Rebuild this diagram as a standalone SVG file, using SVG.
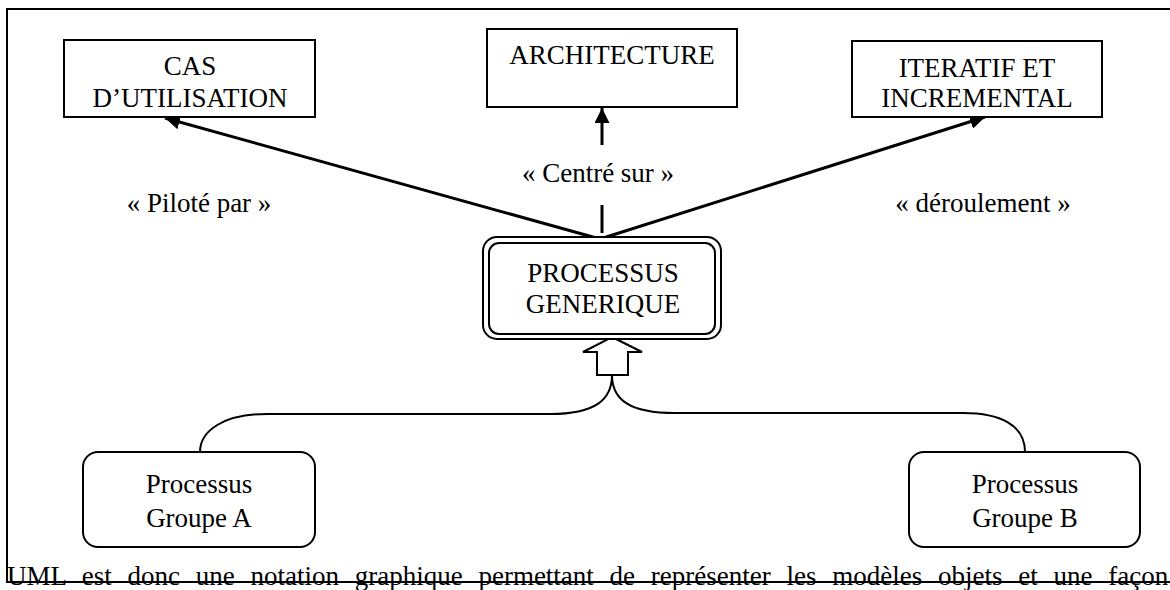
<svg xmlns="http://www.w3.org/2000/svg" width="1170" height="590" viewBox="0 0 1170 590">
  <style>
    text { font-family: 'Liberation Serif', 'DejaVu Serif', serif; font-size: 27px; fill: #000; }
    .c { text-anchor: middle; }
    .box { fill: #fff; stroke: #000; stroke-width: 2; }
    .ln { fill: none; stroke: #000; stroke-width: 3; }
    .crv { fill: none; stroke: #000; stroke-width: 2; }
  </style>
  <defs>
    <marker id="head" viewBox="0 0 10 10" refX="10" refY="5" markerWidth="5" markerHeight="5" markerUnits="strokeWidth" orient="auto">
      <path d="M0,0 L10,5 L0,10 Z" fill="#000"/>
    </marker>
  </defs>
  <rect width="1170" height="590" fill="#fff"/>

  <!-- page frame -->
  <path d="M1180,9 H7 V582 H1180" fill="none" stroke="#000" stroke-width="2"/>

  <!-- connectors -->
  <g id="connectors">
    <line class="ln" x1="600" y1="239" x2="165" y2="118" marker-end="url(#head)"/>
    <line class="ln" x1="600" y1="239" x2="985" y2="117" marker-end="url(#head)"/>
    <line class="ln" x1="602" y1="145" x2="602" y2="108" marker-end="url(#head)"/>
    <line class="ln" x1="602" y1="205" x2="602" y2="233"/>
    <!-- hollow generalisation arrow -->
    <path d="M612,337 L642,352 L628,352 L628,375 L597,375 L597,352 L583,352 Z" fill="#fff" stroke="#000" stroke-width="2" stroke-linejoin="miter"/>
    <path class="crv" d="M612,375 C612,400 595,414 550,414 L267,414 C225,414 200,430 200,452"/>
    <path class="crv" d="M612,375 C612,400 630,413 675,413 L963,413 C1000,413 1025,425 1025,452"/>
  </g>

  <!-- labels -->
  <text class="c" x="199" y="212" font-family="Liberation Serif">« Piloté par »</text>
  <text class="c" x="598" y="182">« Centré sur »</text>
  <text class="c" x="983" y="212">« déroulement »</text>

  <g id="cas">
    <rect class="box" x="64" y="40" width="251" height="77"/>
    <text class="c" x="190" y="75">CAS</text>
    <text class="c" x="190" y="107">D’UTILISATION</text>
  </g>

  <g id="architecture">
    <rect class="box" x="487" y="29" width="250" height="78"/>
    <text class="c" x="612" y="64">ARCHITECTURE</text>
  </g>

  <g id="iteratif">
    <rect class="box" x="852" y="41" width="250" height="76"/>
    <text class="c" x="977" y="77">ITERATIF ET</text>
    <text class="c" x="977" y="107">INCREMENTAL</text>
  </g>

  <g id="generique">
    <rect class="box" x="483" y="237" width="238" height="102" rx="14"/>
    <rect class="box" x="489" y="243" width="226" height="91" rx="10"/>
    <text class="c" x="603" y="282">PROCESSUS</text>
    <text class="c" x="603" y="313">GENERIQUE</text>
  </g>

  <g id="groupe-a">
    <rect class="box" x="83" y="452" width="232" height="95" rx="15"/>
    <text class="c" x="199" y="493">Processus</text>
    <text class="c" x="199" y="527">Groupe A</text>
  </g>

  <g id="groupe-b">
    <rect class="box" x="909" y="452" width="231" height="95" rx="15"/>
    <text class="c" x="1025" y="493">Processus</text>
    <text class="c" x="1025" y="527">Groupe B</text>
  </g>

  <!-- running paragraph text below the figure -->
  <text x="7" y="585" word-spacing="9">UML est donc une notation graphique permettant de représenter les modèles objets et une façon</text>
</svg>
